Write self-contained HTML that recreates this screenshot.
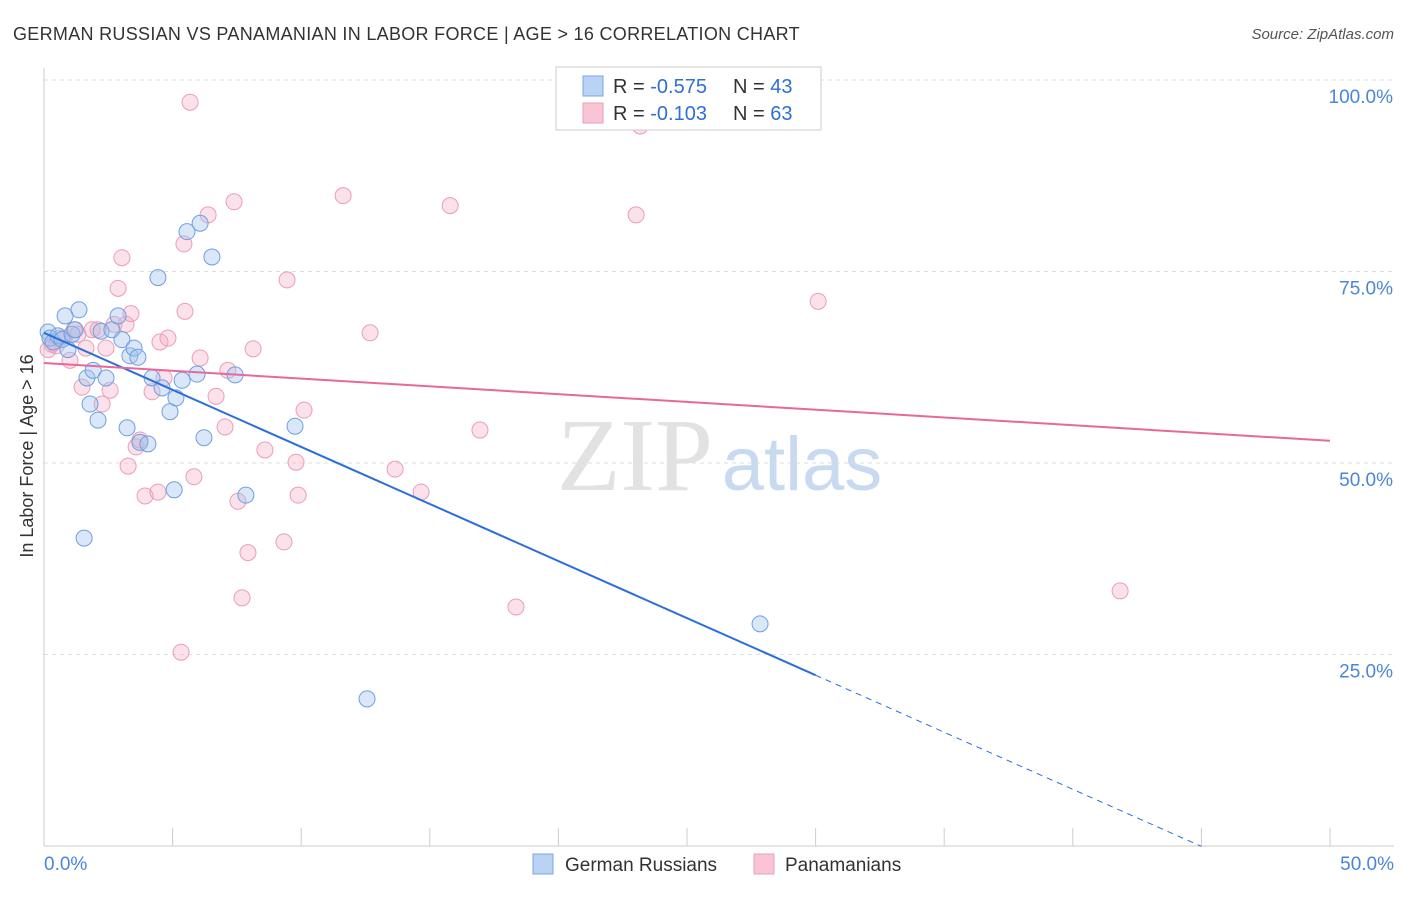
<!DOCTYPE html>
<html><head><meta charset="utf-8"><style>
body{margin:0;background:#fff;font-family:"Liberation Sans",sans-serif;}
svg text{font-family:"Liberation Sans",sans-serif;}
</style></head><body>
<svg id="chart" width="1406" height="892" viewBox="0 0 1406 892" xmlns="http://www.w3.org/2000/svg">
<text x="13" y="40" font-size="18" fill="#333" letter-spacing="0.3">GERMAN RUSSIAN VS PANAMANIAN IN LABOR FORCE | AGE &gt; 16 CORRELATION CHART</text>
<text x="1394" y="39" font-size="15" fill="#555" text-anchor="end" font-style="italic">Source: ZipAtlas.com</text>
<text transform="translate(33,456) rotate(-90)" font-size="18" fill="#333" text-anchor="middle">In Labor Force | Age &gt; 16</text>
<g>
<text x="635" y="490" font-size="104" fill="#e2e2e2" text-anchor="middle" style="font-family:'Liberation Serif',serif">ZIP</text>
<text x="802" y="490" font-size="76" fill="#c8daf0" text-anchor="middle">atlas</text>
</g>
<g id="grid"></g><g id="axes"></g><g id="marks"></g><g id="trends"></g>
<g>
<rect x="556" y="67" width="265" height="63" fill="#fff" stroke="#ccc"/>
<rect x="583" y="76" width="20" height="20" fill="#b9d3f5" stroke="#7aa6e0"/>
<rect x="583" y="103" width="20" height="20" fill="#f9c4d3" stroke="#eaa0b8"/>
<text x="613" y="93" font-size="20" fill="#333">R = <tspan fill="#2f6fd6">-0.575</tspan><tspan x="733">N = </tspan><tspan fill="#2f6fd6">43</tspan></text>
<text x="613" y="120" font-size="20" fill="#333">R = <tspan fill="#2f6fd6">-0.103</tspan><tspan x="733">N = </tspan><tspan fill="#2f6fd6">63</tspan></text>
</g>
<g>
<rect x="533" y="854" width="20" height="20" fill="#b9d3f5" stroke="#7aa6e0"/>
<text x="565" y="871" font-size="19" fill="#333">German Russians</text>
<rect x="754" y="854" width="20" height="20" fill="#f9c4d3" stroke="#eaa0b8"/>
<text x="785" y="871" font-size="19" fill="#333">Panamanians</text>
</g>
</svg>
<script>
const blueX=[0.16,0.23,0.35,0.54,0.70,0.82,0.93,1.09,1.21,1.36,1.56,1.67,1.79,1.91,2.10,2.22,2.41,2.64,2.88,3.03,3.23,3.34,3.50,3.65,3.73,4.04,4.20,4.43,4.59,4.90,5.06,5.13,5.37,5.56,5.95,6.07,6.22,6.53,7.43,7.85,9.76,12.56,27.84];
const blueY=[67.1,66.3,65.8,66.6,66.1,69.2,64.8,66.8,67.4,70.0,40.2,61.1,57.7,62.1,55.6,67.2,61.1,67.4,69.2,66.1,54.6,64.0,65.0,63.8,52.7,52.5,61.1,74.2,59.8,56.7,46.5,58.5,60.8,80.2,61.6,81.3,53.3,76.9,61.5,45.8,54.8,19.2,29.0];
const pinkX=[0.16,0.31,0.47,0.62,0.78,1.01,1.17,1.32,1.48,1.63,1.87,2.10,2.26,2.41,2.57,2.72,2.88,3.03,3.19,3.27,3.38,3.58,3.73,3.93,4.20,4.43,4.51,4.67,4.82,5.33,5.44,5.48,5.68,5.83,6.07,6.38,6.69,7.04,7.15,7.39,7.54,7.70,7.93,8.13,8.59,9.33,9.45,9.80,9.88,10.11,11.63,12.68,13.65,14.66,15.79,16.95,18.35,23.02,23.18,30.10,41.84];
const pinkY=[64.8,65.5,65.3,66.3,66.3,63.4,67.4,66.8,59.9,65.0,67.4,67.4,57.7,65.0,59.5,68.1,72.8,76.8,68.1,49.6,69.5,52.1,53.0,45.7,59.3,46.2,65.8,61.1,66.3,25.3,78.6,69.8,97.1,48.2,63.7,82.4,58.7,54.7,62.1,84.1,45.0,32.4,38.3,64.9,51.7,39.7,73.9,50.1,45.8,56.9,84.9,67.0,49.2,46.2,83.6,54.3,31.2,82.4,94.0,71.1,33.3];
const blueTrend=[67.0,22.3,30.0,45.0];
const pinkTrend=[63.05,52.9];
const yTicks=[25,50,75,100];
const yTickLabels=["25.0%","50.0%","75.0%","100.0%"];
const xTicks=[0,5,10,15,20,25,30,35,40,45,50];

const NS="http://www.w3.org/2000/svg";
const sx=v=>44+v/50*1286;
const sy=v=>846-v/100*766;
function mk(t,a,p){const e=document.createElementNS(NS,t);for(const k in a)e.setAttribute(k,a[k]);p.appendChild(e);return e;}
const grid=document.getElementById('grid'),axes=document.getElementById('axes'),marks=document.getElementById('marks'),trends=document.getElementById('trends');
yTicks.forEach((t,i)=>{
 const l=mk('line',{x1:44,x2:1394,y1:sy(t),y2:sy(t),stroke:'#ddd','stroke-dasharray':'4,4'},grid);
 
 
 const tx=mk('text',{x:1393,y:sy(t)+23,'font-size':19,fill:'#4a86d8','text-anchor':'end'},axes);
 tx.textContent=yTickLabels[i];
 
 
});
const ya=mk('line',{x1:44,x2:44,y1:68,y2:846,stroke:'#ccc'},axes);


const xa=mk('line',{x1:44,x2:1394,y1:846,y2:846,stroke:'#ccc'},axes);


xTicks.forEach(t=>{
 const l=mk('line',{x1:sx(t),x2:sx(t),y1:828,y2:846,stroke:'#ccc'},axes);
 
 
});
const x0=mk('text',{x:44,y:870,'font-size':19,fill:'#4a86d8'},axes);x0.textContent='0.0%';


const x1=mk('text',{x:1394,y:870,'font-size':19,fill:'#4a86d8','text-anchor':'end'},axes);x1.textContent='50.0%';


pinkX.forEach((v,i)=>{
 const c=mk('circle',{cx:sx(v),cy:sy(pinkY[i]),r:8,fill:'rgba(244,170,195,0.35)',stroke:'#eb9db7','stroke-width':1},marks);
 
 
});
blueX.forEach((v,i)=>{
 const c=mk('circle',{cx:sx(v),cy:sy(blueY[i]),r:8,fill:'rgba(160,195,240,0.4)',stroke:'#6f9fdf','stroke-width':1},marks);
 
 
});
const slope=(blueTrend[1]-blueTrend[0])/blueTrend[2];
const bl=mk('line',{x1:sx(0),y1:sy(blueTrend[0]),x2:sx(blueTrend[2]),y2:sy(blueTrend[1]),stroke:'#2a6fd8','stroke-width':2},trends);


const bd=mk('line',{x1:sx(blueTrend[2]),y1:sy(blueTrend[1]),x2:sx(blueTrend[3]),y2:sy(blueTrend[0]+slope*blueTrend[3]),stroke:'#2a6fd8','stroke-width':1,'stroke-dasharray':'6,5'},trends);


const pl=mk('line',{x1:sx(0),y1:sy(pinkTrend[0]),x2:sx(50),y2:sy(pinkTrend[1]),stroke:'#e8689a','stroke-width':2},trends);


</script>
</body></html>
